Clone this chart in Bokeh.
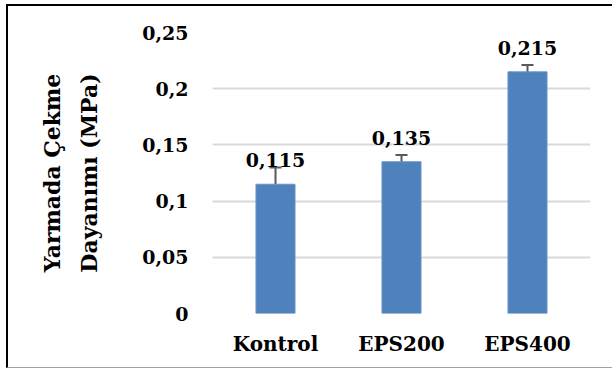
from bokeh.plotting import figure
from bokeh.models import ColumnDataSource, FixedTicker, Whisker, TeeHead
from bokeh.core.properties import value
from bokeh.embed import file_html
from bokeh.resources import INLINE

categories = ["Kontrol", "EPS200", "EPS400"]
values = [0.115, 0.135, 0.215]
errors = [0.015, 0.006, 0.006]
value_labels = ["0,115", "0,135", "0,215"]
y_ticks = [0, 0.05, 0.1, 0.15, 0.2, 0.25]
y_tick_labels = ["0", "0,05", "0,1", "0,15", "0,2", "0,25"]
y_title_lines = ["Yarmada Çekme", "Dayanımı (MPa)"]

src = ColumnDataSource(dict(
    cat=categories,
    val=values,
    lo=[v - e for v, e in zip(values, errors)],
    hi=[v + e for v, e in zip(values, errors)],
    lab=value_labels,
))

FONT = "DejaVu Serif"

p = figure(x_range=categories, y_range=(0, 0.25), width=606, height=364,
           output_backend="svg", toolbar_location=None,
           min_border_left=204, min_border_right=24, min_border_top=26, min_border_bottom=57)
p.styles = {"margin-left": "6px", "margin-top": "4px",
            "border-left": "2px solid #000000", "border-top": "2px solid #000000",
            "border-bottom": "1px solid #a0a0a0"}

p.vbar(x="cat", top="val", width=0.31, source=src, fill_color="#4f81bd", line_color="#6a95c8", line_width=1)

w = Whisker(base="cat", lower="lo", upper="hi", source=src, line_color="#595959", line_width=2,
            upper_head=TeeHead(size=12, line_color="#595959", line_width=2),
            lower_head=TeeHead(size=12, line_color="#595959", line_width=2))
p.add_layout(w)

p.text(x="cat", y="val", text="lab", source=src, text_font=value(FONT), text_font_style="bold",
       text_font_size="19px", text_align="center", text_baseline="alphabetic", y_offset=-24,
       text_color="#000000")

p.outline_line_color = None
p.xgrid.grid_line_color = None
p.ygrid.grid_line_color = "#d9d9d9"
p.ygrid.grid_line_width = 2
p.yaxis.ticker = FixedTicker(ticks=y_ticks)
p.yaxis.major_label_overrides = {t: l for t, l in zip(y_ticks, y_tick_labels)}

for ax in (p.xaxis[0], p.yaxis[0]):
    ax.axis_line_color = None
    ax.major_tick_line_color = None
    ax.minor_tick_line_color = None
    ax.major_label_text_font = FONT
    ax.major_label_text_font_style = "bold"
    ax.major_label_text_color = "#000000"

p.yaxis.major_label_text_font_size = "19px"
p.xaxis.major_label_text_font_size = "20px"
p.yaxis.major_label_standoff = 18
p.xaxis.major_label_standoff = 12

p.yaxis.axis_label = "\n".join(y_title_lines)
p.yaxis.axis_label_text_font = FONT
p.yaxis.axis_label_text_font_style = "bold"
p.yaxis.axis_label_text_font_size = "22px"
p.yaxis.axis_label_text_line_height = 1.45
p.yaxis.axis_label_text_color = "#000000"
p.yaxis.axis_label_standoff = 37

open("out.html", "w").write(file_html(p, INLINE))
